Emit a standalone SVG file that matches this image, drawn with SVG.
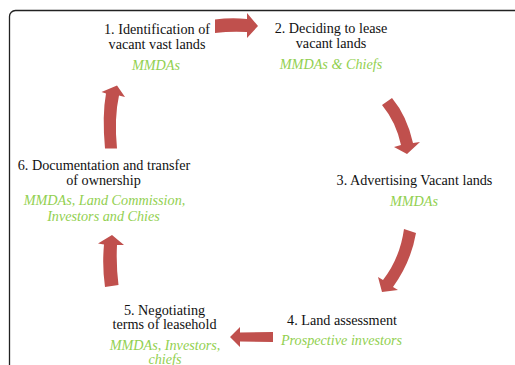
<svg xmlns="http://www.w3.org/2000/svg" width="515" height="365" viewBox="0 0 515 365">
<style>
.t{font-family:"Liberation Serif","Times New Roman",serif;font-size:14.2px;fill:#111;text-anchor:middle}
.g{font-family:"Liberation Serif","Times New Roman",serif;font-size:14.2px;font-style:italic;fill:#92d050;text-anchor:middle}
.a{fill:#c0504d}
</style>
<rect width="515" height="365" fill="#fff"/>
<rect x="9.5" y="10.5" width="530" height="380" rx="6" fill="none" stroke="#222" stroke-width="1.3"/>
<g id="connectors">
<path class="a" d="M215,19.5 Q231,17.5 247,19 L247,13 L258,26 L247,38 L247,32 Q231,31 215,33 Z"/>
<path class="a" d="M382,105 Q396,122 401,145 L394,147 L407,154 L420,142 L413,143 Q407,116 392,98 Z"/>
<path class="a" d="M404,229 Q400,258 383,280 L378,277 L382,292 L398,290 L393,287 Q411,262 416,233 Z"/>
<path class="a" d="M273,332 L240,332.5 L240,327 L230,337 L240,347 L240,341.5 L273,342 Z"/>
<path class="a" d="M105,287 Q102,266 104,244.5 L98,243.5 L112,235 L124,245 L117,245 Q116,265 118.5,285 Z"/>
<path class="a" d="M105,148.5 Q102,115 106,93.5 L101.5,92 L117,85.5 L125,97 L119,95.5 Q114,118 117,148.5 Z"/>
</g>
<g id="node1">
<text class="t" x="157" y="33.5">1. Identification of</text>
<text class="t" x="157" y="48.5">vacant vast lands</text>
<text class="g" x="156" y="70">MMDAs</text>
</g>
<g id="node2">
<text class="t" x="331" y="33">2. Deciding to lease</text>
<text class="t" x="331" y="48">vacant lands</text>
<text class="g" x="331" y="68.5">MMDAs &amp; Chiefs</text>
</g>
<g id="node3">
<text class="t" x="414.5" y="185">3. Advertising Vacant lands</text>
<text class="g" x="414" y="205.5">MMDAs</text>
</g>
<g id="node4">
<text class="t" x="342" y="325">4. Land assessment</text>
<text class="g" x="341.5" y="345">Prospective investors</text>
</g>
<g id="node5">
<text class="t" x="164.5" y="314.5">5. Negotiating</text>
<text class="t" x="164.5" y="329">terms of leasehold</text>
<text class="g" x="165" y="349.5">MMDAs, Investors,</text>
<text class="g" x="165" y="364">chiefs</text>
</g>
<g id="node6">
<text class="t" x="104" y="169.5">6. Documentation and transfer</text>
<text class="t" x="103.5" y="184.5">of ownership</text>
<text class="g" x="104.5" y="205">MMDAs, Land Commission,</text>
<text class="g" x="103.5" y="220.5">Investors and Chies</text>
</g>
</svg>
